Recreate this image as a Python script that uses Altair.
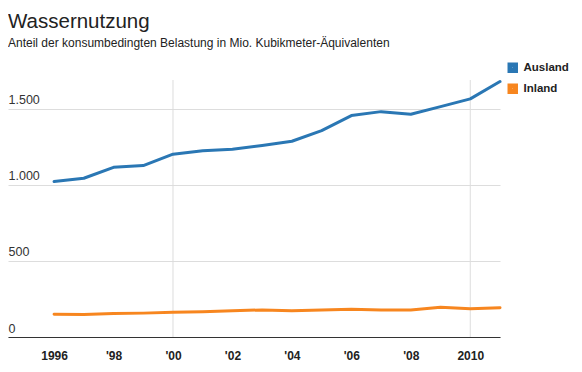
import altair as alt
import pandas as pd

years = list(range(1996, 2012))
ausland = [1022, 1044, 1116, 1127, 1202, 1224, 1235, 1259, 1287, 1357, 1456, 1482, 1465, 1515, 1566, 1680]
inland = [150, 148, 155, 157, 162, 166, 172, 178, 172, 177, 182, 178, 178, 195, 186, 193]
series = ["Ausland", "Inland"]
colors = ["#2a77b4", "#f7861f"]
grid_years = [2000, 2010]
x_tick_years = [1996, 1998, 2000, 2002, 2004, 2006, 2008, 2010]
y_ticks = [0, 500, 1000, 1500]

df = pd.DataFrame({
    "Jahr": years * 2,
    "Wert": ausland + inland,
    "Serie": ["Ausland"] * len(years) + ["Inland"] * len(years),
})
grid_df = pd.DataFrame({"Jahr": grid_years})

FONT = "Liberation Sans"

x_scale = alt.Scale(domain=[1994.45, 2011], nice=False, zero=False)
y_scale = alt.Scale(domain=[0, 1690], nice=False, zero=True)

x_axis = alt.Axis(
    values=x_tick_years,
    labelExpr="datum.value == 1996 || datum.value == 2010 ? '' + datum.value : \"'\" + substring('' + datum.value, 2, 4)",
    grid=False,
    ticks=False,
    tickSize=0,
    labelPadding=13,
    labelFont=FONT,
    labelFontSize=12,
    labelFontWeight="bold",
    labelColor="#222222",
    labelFlush=False,
    domainColor="#333333",
    domainWidth=1,
)

vgrid = alt.Chart(grid_df).mark_rule(color="#dddddd", strokeWidth=1).encode(
    x=alt.X("Jahr:Q", scale=x_scale, title=None, axis=x_axis)
)

lines = alt.Chart(df).mark_line(strokeWidth=3, strokeJoin="round", strokeCap="round").encode(
    x=alt.X("Jahr:Q", scale=x_scale, title=None, axis=x_axis),
    y=alt.Y(
        "Wert:Q",
        scale=y_scale,
        title=None,
        axis=alt.Axis(
            values=y_ticks,
            labelExpr="replace(format(datum.value, ','), ',', '.')",
            grid=True,
            gridColor="#dddddd",
            gridWidth=1,
            domain=False,
            ticks=False,
            tickSize=0,
            labelAlign="left",
            labelBaseline="alphabetic",
            labelPadding=0,
            labelOffset=-5,
            labelFont=FONT,
            labelFontSize=12.5,
            labelColor="#333333",
            labelFlush=False,
            labelBound=False,
        ),
    ),
    color=alt.Color(
        "Serie:N",
        scale=alt.Scale(domain=series, range=colors),
        legend=alt.Legend(
            orient="none",
            legendX=499,
            legendY=-18,
            title=None,
            symbolType="square",
            symbolSize=30,
            symbolStrokeWidth=5,
            symbolOpacity=1,
            labelFont=FONT,
            labelFontSize=11.5,
            labelFontWeight="bold",
            labelColor="#222222",
            labelOffset=5,
            rowPadding=-5,
            padding=0,
        ),
    ),
)

chart = alt.layer(vgrid, lines).properties(
    width=492,
    height=257,
    padding={"left": 0, "top": 72, "right": 74, "bottom": 26},
    autosize=alt.AutoSizeParams(type="none"),
    title=alt.TitleParams(
        text="Wassernutzung",
        subtitle="Anteil der konsumbedingten Belastung in Mio. Kubikmeter-Äquivalenten",
        anchor="start",
        frame="group",
        font=FONT,
        fontSize=20.5,
        fontWeight="normal",
        color="#222222",
        subtitleFont=FONT,
        subtitleFontSize=12,
        subtitleColor="#222222",
        subtitlePadding=6,
        offset=13,
    ),
).configure_view(stroke=None)

chart.save("out.html", embed_options={"renderer": "svg", "actions": False})
